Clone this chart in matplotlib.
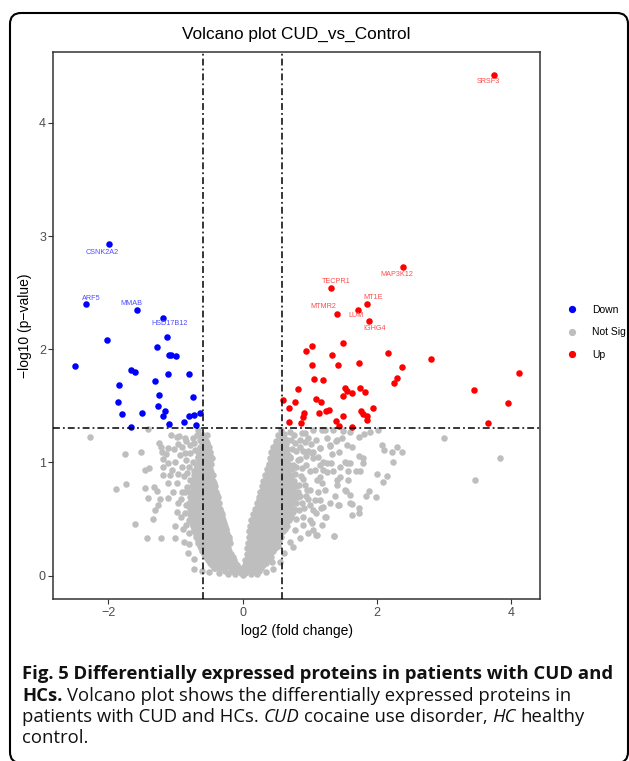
import numpy as np
import matplotlib
matplotlib.use("Agg")
import matplotlib.pyplot as plt
from matplotlib.patches import FancyBboxPatch
from matplotlib.lines import Line2D
from matplotlib.transforms import IdentityTransform

# thresholds
fc_cut = 0.585   # log2(1.5)
p_cut = 1.301    # -log10(0.05)

# significant down-regulated proteins (first four carry labels)
down_labels = ["CSNK2A2", "ARF5", "MMAB", "HSD17B12"]
down_x = [-1.985, -2.34, -1.57, -1.19, -2.49, -2.02, -1.125, -1.27, -1.095, -1.066,
          -0.99, -1.66, -1.61, -1.115, -0.80, -1.31, -1.835, -1.25, -0.742, -1.855,
          -1.264, -1.79, -1.50, -1.16, -1.185, -0.633, -0.797, -0.727, -0.872, -1.095,
          -0.697, -1.666]
down_y = [2.93, 2.40, 2.35, 2.28, 1.854, 2.08, 2.11, 2.02, 1.95, 1.95,
          1.94, 1.82, 1.795, 1.777, 1.78, 1.72, 1.683, 1.60, 1.577, 1.535,
          1.497, 1.426, 1.438, 1.456, 1.41, 1.44, 1.41, 1.418, 1.356, 1.335,
          1.329, 1.311]

# significant up-regulated proteins (first seven carry labels)
up_labels = ["SRSF3", "MAP3K12", "TECPR1", "MT1E", "MTMR2", "LUM", "IGHG4"]
up_x = [3.74, 2.39, 1.32, 1.855, 1.40, 1.72, 1.885,
        1.50, 1.036, 0.946, 1.334, 2.17, 1.73, 1.04, 1.423, 1.07, 1.2,
        0.822, 1.53, 1.56, 1.635, 1.50, 1.75, 1.82, 0.604, 0.778, 1.095,
        1.165, 0.688, 1.945, 0.912, 0.897, 1.145, 1.244, 1.28, 1.493, 1.76,
        1.79, 1.85, 1.86, 0.688, 0.876, 1.393, 1.438, 1.627,
        2.81, 2.377, 4.11, 2.307, 2.253, 3.44, 3.96, 3.654]
up_y = [4.42, 2.73, 2.54, 2.40, 2.314, 2.35, 2.246,
        2.057, 2.03, 1.987, 1.945, 1.966, 1.88, 1.857, 1.857, 1.739, 1.724,
        1.65, 1.662, 1.627, 1.615, 1.586, 1.662, 1.618, 1.55, 1.533, 1.556,
        1.533, 1.485, 1.485, 1.438, 1.40, 1.438, 1.45, 1.462, 1.414, 1.453,
        1.432, 1.414, 1.376, 1.361, 1.352, 1.364, 1.326, 1.314,
        1.913, 1.839, 1.786, 1.742, 1.703, 1.64, 1.526, 1.35]

# not significant: scattered points read one by one
grey_pts = [
    (-2.27, 1.226), (-1.89, 0.763), (-1.736, 0.81), (-1.756, 1.072), (-1.60, 0.458),
    (-1.418, 0.335), (-1.22, 0.332), (-1.0, 0.335), (-1.52, 1.09), (-1.41, 1.294),
    (-1.453, 0.936), (-1.39, 0.953), (-1.453, 0.776), (-1.41, 0.688), (-1.315, 0.779),
    (-1.27, 0.75), (-1.30, 0.58), (-1.254, 0.625), (-1.23, 0.675), (-1.33, 0.497),
    (-1.215, 1.14), (-1.24, 1.17), (-1.205, 1.096), (-1.18, 1.028), (-1.105, 1.126),
    (-1.145, 1.075), (-1.066, 1.243), (-0.95, 1.234), (-0.966, 1.164), (-0.84, 1.193),
    (-0.78, 1.155), (-0.72, 1.17), (-1.01, 0.438), (-0.885, 0.412), (-0.795, 0.373),
    (-0.795, 0.279), (-0.718, 0.143), (-0.41, 0.069), (-1.18, 0.963), (-1.105, 0.993),
    (-1.056, 0.934), (-1.18, 0.889), (-1.08, 0.889), (-1.105, 0.815), (-0.98, 0.815),
    (-1.03, 0.742), (-0.91, 0.742), (-1.105, 0.683), (-0.955, 0.64), (-0.98, 0.565),
    (-0.855, 0.55), (-0.93, 1.066), (-0.85, 1.022), (-0.905, 0.963), (-0.83, 0.904),
    (-0.855, 1.08), (-0.78, 1.08), (-0.805, 0.963), (-0.78, 0.845), (-0.83, 0.786),
    (-0.755, 0.698), (-0.78, 0.61), (-0.805, 0.491), (-0.68, 1.243), (-0.63, 1.2),
    (-0.705, 1.11), (-0.98, 1.228), (-0.857, 1.214), (-0.733, 1.214), (-0.66, 1.288),
    (-0.584, 1.243), (-0.534, 1.17), (-0.484, 1.096), (-0.459, 1.037),
    (-0.88, 0.88), (-0.92, 0.68), (-0.85, 0.62), (-0.88, 0.30), (-0.82, 0.20),
    (-0.72, 0.06), (-0.60, 0.04), (-0.50, 0.03), (-0.35, 0.02), (-0.22, 0.015),
    (-0.12, 0.01), (0.12, 0.01), (0.22, 0.015), (-1.0, 1.0), (-1.02, 1.12),
    (-0.90, 1.14), (-0.74, 1.0), (-0.72, 0.92), (-0.96, 0.90), (-0.86, 0.74),
    (-0.84, 0.45), (-0.92, 0.52), (-0.66, 1.05),
    (3.0, 1.22), (3.455, 0.848), (3.83, 1.037),
    (2.07, 1.155), (2.10, 1.11), (2.23, 1.096), (2.30, 1.14), (2.38, 1.09),
    (2.24, 1.007), (1.995, 0.898), (2.15, 0.88), (2.09, 0.83), (1.89, 0.748),
    (1.845, 0.706), (1.985, 0.697), (1.74, 0.594), (1.73, 0.55), (1.627, 0.538),
    (1.627, 0.633), (1.42, 0.621), (1.24, 0.515), (1.364, 0.35), (1.095, 0.358),
    (1.046, 0.403), (2.01, 1.29), (1.90, 1.27), (1.815, 1.25), (1.73, 1.223),
    (1.60, 1.267), (1.50, 1.279), (1.63, 1.14), (1.55, 1.155), (1.74, 1.057),
    (1.80, 1.037), (1.79, 0.993), (1.53, 1.0), (1.60, 0.993), (1.568, 0.927),
    (1.687, 0.925), (1.75, 0.922), (1.568, 0.845), (1.538, 0.75), (1.60, 0.712),
    (1.413, 0.845), (1.40, 0.80), (1.393, 1.193), (1.443, 1.09), (1.304, 1.146),
    (1.33, 1.072), (1.155, 1.131), (1.314, 0.993), (1.204, 1.007), (1.255, 0.919),
    (1.155, 0.875), (1.23, 0.757), (1.155, 0.668), (1.165, 0.594), (1.006, 0.757),
    (1.08, 0.934), (1.055, 1.037), (1.046, 1.096), (0.946, 1.057), (0.93, 1.258),
    (1.055, 1.29), (1.23, 1.288), (1.353, 1.288), (1.006, 0.491),
    (0.57, 1.29), (0.708, 1.273), (0.882, 1.258), (1.18, 1.288), (0.658, 1.2),
    (0.782, 1.17), (0.857, 1.14), (1.03, 1.08), (1.155, 1.126), (1.13, 1.05),
    (1.30, 1.155), (1.40, 1.2), (1.255, 0.993), (1.204, 0.934), (1.453, 0.875),
    (1.553, 0.993), (1.528, 0.757), (1.60, 0.639), (1.43, 0.624), (1.204, 0.609),
    (1.23, 0.52), (1.105, 0.358), (1.368, 0.35), (1.03, 0.462), (0.906, 0.52),
    (1.08, 0.668), (0.957, 0.757), (1.105, 0.845), (0.757, 0.255), (0.435, 0.122),
    (0.70, 1.05), (0.75, 0.98), (0.80, 1.10), (0.88, 0.95), (0.93, 1.18),
    (0.98, 1.10), (0.72, 1.20), (0.85, 1.03), (0.90, 0.85), (0.95, 0.98),
    (1.10, 1.20), (1.15, 0.98), (0.66, 1.12), (0.78, 0.90), (0.84, 0.80),
    (0.98, 0.68), (1.05, 0.58), (0.92, 0.60), (0.86, 0.70),
    (0.62, 1.25), (0.68, 1.05), (0.74, 1.12), (0.76, 1.24), (0.82, 1.02),
    (0.86, 1.20), (0.90, 1.10), (0.97, 1.22), (1.00, 0.92), (1.02, 1.16),
    (0.80, 0.96), (0.87, 0.88), (0.93, 0.80), (0.82, 0.74), (0.88, 0.64),
    (0.95, 0.70), (1.00, 0.62), (0.84, 0.58), (0.80, 0.50), (0.90, 0.45),
    (0.78, 0.40), (0.70, 0.30), (0.85, 0.33), (0.62, 0.20), (0.55, 0.12),
    (0.45, 0.06), (0.35, 0.03), (1.12, 0.74), (1.18, 0.82), (1.25, 1.22),
    (1.35, 0.92), (1.45, 0.96), (1.48, 1.22), (1.38, 0.70), (1.30, 0.64),
    (1.10, 0.55), (1.18, 0.45), (0.97, 0.38),
    (0.0, 0.005), (-0.03, 0.02), (0.03, 0.02), (-0.02, 0.05), (0.01, 0.035),
]

# not significant: the solid core of the two wings, estimated row by row
left_core = [
    (0.04, [-0.26, -0.18, -0.11, -0.05]),
    (0.065, [-0.42, -0.34, -0.26, -0.18, -0.11, -0.04]),
    (0.09, [-0.46, -0.38, -0.30, -0.22, -0.15, -0.08]),
    (0.115, [-0.49, -0.41, -0.33, -0.25, -0.18, -0.11]),
    (0.14, [-0.52, -0.44, -0.36, -0.29, -0.21, -0.13]),
    (0.165, [-0.55, -0.47, -0.39, -0.31, -0.23, -0.15]),
    (0.19, [-0.58, -0.50, -0.42, -0.34, -0.26, -0.17]),
    (0.215, [-0.60, -0.52, -0.44, -0.36, -0.28, -0.20]),
    (0.24, [-0.62, -0.55, -0.47, -0.39, -0.31, -0.22]),
    (0.265, [-0.64, -0.56, -0.48, -0.40, -0.32, -0.24]),
    (0.29, [-0.66, -0.58, -0.50, -0.42, -0.34, -0.26, -0.19]),
    (0.315, [-0.67, -0.59, -0.51, -0.43, -0.35, -0.27, -0.20]),
    (0.34, [-0.69, -0.61, -0.53, -0.45, -0.37, -0.29, -0.21]),
    (0.365, [-0.70, -0.62, -0.54, -0.46, -0.38, -0.30, -0.23]),
    (0.39, [-0.72, -0.64, -0.56, -0.48, -0.40, -0.32, -0.24]),
    (0.415, [-0.73, -0.65, -0.57, -0.49, -0.41, -0.33, -0.25]),
    (0.44, [-0.74, -0.66, -0.58, -0.50, -0.42, -0.34, -0.26]),
    (0.465, [-0.75, -0.67, -0.59, -0.51, -0.43, -0.35, -0.28]),
    (0.49, [-0.76, -0.68, -0.60, -0.52, -0.44, -0.36, -0.29]),
    (0.515, [-0.77, -0.69, -0.61, -0.53, -0.45, -0.37, -0.30]),
    (0.54, [-0.78, -0.70, -0.62, -0.54, -0.46, -0.38, -0.31]),
    (0.565, [-0.75, -0.67, -0.59, -0.51, -0.43, -0.36, -0.32]),
    (0.59, [-0.79, -0.71, -0.63, -0.55, -0.47, -0.39, -0.33]),
    (0.615, [-0.76, -0.68, -0.60, -0.52, -0.44, -0.37]),
    (0.64, [-0.80, -0.72, -0.64, -0.56, -0.48, -0.41, -0.35]),
    (0.665, [-0.76, -0.68, -0.60, -0.52, -0.44, -0.38]),
    (0.69, [-0.79, -0.71, -0.63, -0.55, -0.48, -0.41, -0.36]),
    (0.715, [-0.75, -0.67, -0.59, -0.51, -0.44, -0.38]),
    (0.74, [-0.78, -0.70, -0.62, -0.54, -0.47, -0.40]),
    (0.765, [-0.73, -0.65, -0.57, -0.50, -0.43]),
    (0.79, [-0.76, -0.68, -0.60, -0.53, -0.46, -0.41]),
    (0.815, [-0.71, -0.63, -0.56, -0.49, -0.43]),
    (0.84, [-0.74, -0.66, -0.58, -0.51, -0.44]),
    (0.865, [-0.69, -0.61, -0.54, -0.47]),
    (0.89, [-0.72, -0.64, -0.57, -0.50, -0.44]),
    (0.915, [-0.67, -0.60, -0.53, -0.47]),
    (0.94, [-0.70, -0.62, -0.55, -0.49]),
    (0.965, [-0.66, -0.58, -0.51]),
    (0.99, [-0.69, -0.61, -0.54, -0.47]),
    (1.015, [-0.64, -0.57, -0.50]),
    (1.04, [-0.67, -0.60, -0.53, -0.47]),
    (1.065, [-0.63, -0.56, -0.49]),
    (1.09, [-0.66, -0.59, -0.52]),
    (1.115, [-0.61, -0.54]),
    (1.14, [-0.64, -0.57, -0.50]),
    (1.165, [-0.59, -0.53]),
    (1.19, [-0.62, -0.55]),
    (1.215, [-0.57]),
    (1.24, [-0.60, -0.53]),
]
right_core = [
    (0.04, [0.04, 0.11, 0.18, 0.25]),
    (0.065, [0.02, 0.07, 0.14, 0.21, 0.28]),
    (0.09, [0.03, 0.10, 0.17, 0.24, 0.31]),
    (0.115, [0.07, 0.14, 0.21, 0.28, 0.35]),
    (0.14, [0.04, 0.11, 0.18, 0.25, 0.32, 0.38]),
    (0.165, [0.08, 0.15, 0.22, 0.29, 0.36, 0.42]),
    (0.19, [0.06, 0.13, 0.20, 0.27, 0.34, 0.41]),
    (0.215, [0.10, 0.17, 0.24, 0.31, 0.38, 0.45]),
    (0.24, [0.07, 0.14, 0.21, 0.28, 0.35, 0.42, 0.48]),
    (0.265, [0.11, 0.18, 0.25, 0.32, 0.39, 0.46, 0.52]),
    (0.29, [0.08, 0.15, 0.22, 0.29, 0.36, 0.43, 0.50]),
    (0.315, [0.12, 0.19, 0.26, 0.33, 0.40, 0.47, 0.54]),
    (0.34, [0.09, 0.16, 0.23, 0.30, 0.37, 0.44, 0.51, 0.57]),
    (0.365, [0.13, 0.20, 0.27, 0.34, 0.41, 0.48, 0.56]),
    (0.39, [0.10, 0.17, 0.24, 0.31, 0.38, 0.45, 0.52, 0.60]),
    (0.415, [0.14, 0.21, 0.28, 0.35, 0.42, 0.49, 0.56, 0.63]),
    (0.44, [0.11, 0.18, 0.25, 0.32, 0.39, 0.46, 0.53, 0.60, 0.66]),
    (0.465, [0.15, 0.22, 0.29, 0.36, 0.43, 0.50, 0.57, 0.64]),
    (0.49, [0.13, 0.20, 0.27, 0.34, 0.41, 0.48, 0.55, 0.62, 0.69]),
    (0.515, [0.17, 0.24, 0.31, 0.38, 0.45, 0.52, 0.59, 0.66, 0.72]),
    (0.54, [0.16, 0.23, 0.30, 0.37, 0.44, 0.51, 0.58, 0.65, 0.72]),
    (0.565, [0.20, 0.27, 0.34, 0.41, 0.48, 0.55, 0.62, 0.69, 0.75]),
    (0.59, [0.19, 0.26, 0.33, 0.40, 0.47, 0.54, 0.61, 0.68, 0.76]),
    (0.615, [0.23, 0.30, 0.37, 0.44, 0.51, 0.58, 0.65, 0.72]),
    (0.64, [0.22, 0.29, 0.36, 0.43, 0.50, 0.57, 0.64, 0.71, 0.79]),
    (0.665, [0.25, 0.32, 0.39, 0.46, 0.53, 0.60, 0.67, 0.75]),
    (0.69, [0.24, 0.31, 0.38, 0.45, 0.52, 0.59, 0.66, 0.74, 0.83]),
    (0.715, [0.28, 0.35, 0.42, 0.49, 0.56, 0.63, 0.70, 0.78]),
    (0.74, [0.26, 0.33, 0.40, 0.47, 0.54, 0.61, 0.68, 0.77]),
    (0.765, [0.30, 0.37, 0.44, 0.51, 0.58, 0.65, 0.73]),
    (0.79, [0.29, 0.36, 0.43, 0.50, 0.57, 0.64, 0.72, 0.80]),
    (0.815, [0.33, 0.40, 0.47, 0.54, 0.61, 0.69]),
    (0.84, [0.31, 0.38, 0.45, 0.52, 0.59, 0.67, 0.76]),
    (0.865, [0.35, 0.42, 0.49, 0.56, 0.63, 0.72]),
    (0.89, [0.34, 0.41, 0.48, 0.55, 0.62, 0.70]),
    (0.915, [0.38, 0.45, 0.52, 0.59, 0.67]),
    (0.94, [0.36, 0.43, 0.50, 0.57, 0.64, 0.73]),
    (0.965, [0.40, 0.47, 0.54, 0.61, 0.70]),
    (0.99, [0.39, 0.46, 0.53, 0.60, 0.68]),
    (1.015, [0.43, 0.50, 0.57, 0.65]),
    (1.04, [0.41, 0.48, 0.55, 0.63, 0.71]),
    (1.065, [0.45, 0.52, 0.59, 0.67]),
    (1.09, [0.43, 0.50, 0.57, 0.65]),
    (1.115, [0.48, 0.55, 0.62]),
    (1.14, [0.46, 0.53, 0.60]),
    (1.165, [0.50, 0.57, 0.64]),
    (1.19, [0.49, 0.56, 0.64]),
    (1.215, [0.55, 0.62]),
    (1.24, [0.53, 0.60]),
]

# label offsets in points (layout only)
down_offsets = [(-5.0, -6.0), (3.9, 4.1), (-4.3, 4.5), (4.8, -4.5)]
up_offsets = [(-4.1, -4.6), (-4.8, -5.5), (3.9, 4.8), (4.3, 4.8), (-9.8, 5.0), (-1.4, -4.5), (4.1, -5.3)]

W, H = 629, 761
fig = plt.figure(figsize=(W / 100, H / 100), dpi=100)
fig.patch.set_facecolor("white")
chart_font = "Liberation Sans"

# rounded frame around the figure
frame = FancyBboxPatch((10, -2), 618, 750, boxstyle="round,pad=0,rounding_size=11",
                       transform=IdentityTransform(), fill=False, edgecolor="black",
                       linewidth=1.5, zorder=0)
fig.patches.append(frame)

ax = fig.add_axes([53.3 / W, 1 - 599.3 / H, (540 - 53.3) / W, (599.3 - 51.7) / H])

gx = [p[0] for p in grey_pts]
gy = [p[1] for p in grey_pts]
for yv, xs in left_core + right_core:
    gx += xs
    gy += [yv] * len(xs)

s = 22
h_grey = ax.scatter(gx, gy, s=s, color="#bebebe", linewidths=0, zorder=2)
h_down = ax.scatter(down_x, down_y, s=s, color="blue", linewidths=0, zorder=3)
h_up = ax.scatter(up_x, up_y, s=s, color="red", linewidths=0, zorder=3)

for name, x, y, off in zip(down_labels, down_x, down_y, down_offsets):
    ax.annotate(name, (x, y), xytext=off, textcoords="offset points", ha="center",
                va="center", fontsize=5.2, color="#4d4dff", family=chart_font, zorder=4)
for name, x, y, off in zip(up_labels, up_x, up_y, up_offsets):
    ax.annotate(name, (x, y), xytext=off, textcoords="offset points", ha="center",
                va="center", fontsize=5.2, color="#ff4d4d", family=chart_font, zorder=4)

dash = (0, (4.5, 2, 1.2, 2))
for xv in (-fc_cut, fc_cut):
    ax.axvline(xv, color="black", lw=1.1, linestyle=dash, zorder=5)
ax.axhline(p_cut, color="black", lw=1.1, linestyle=dash, zorder=5)

ax.set_xlim(-2.82, 4.43)
ax.set_ylim(-0.21, 4.63)
ax.set_xticks([-2, 0, 2, 4])
ax.set_xticklabels(["\u22122", "0", "2", "4"])
ax.set_yticks([0, 1, 2, 3, 4])
ax.tick_params(direction="out", length=3.3, width=0.8, color="#333333",
               labelcolor="#4d4d4d", labelsize=9, pad=2)
for lab in ax.get_xticklabels() + ax.get_yticklabels():
    lab.set_family(chart_font)
for sp in ax.spines.values():
    sp.set_color("#333333")
    sp.set_linewidth(1.1)

ax.set_xlabel("log2 (fold change)", fontsize=10, family=chart_font, labelpad=4)
ax.set_ylabel("\u2212log10 (p\u2212value)", fontsize=10, family=chart_font, labelpad=5)
fig.text(296.7 / W, 1 - 34 / H, "Volcano plot CUD_vs_Control", ha="center", va="center",
         fontsize=12.4, family=chart_font)

handles = [Line2D([], [], marker="o", ls="none", color=c, markersize=4.2)
           for c in ("blue", "#bebebe", "red")]
fig.legend(handles, ["Down", "Not Sig", "Up"], loc="upper left",
           bbox_to_anchor=(562 / W, 1 - 299.5 / H), frameon=False,
           prop={"family": chart_font, "size": 7.5}, handlelength=1.0,
           handletextpad=1.4, labelspacing=1.2, borderpad=0)

# caption below the chart
cap_font = "Open Sans"
cap_fs = 13.3
renderer = fig.canvas.get_renderer()


def text_width(s, **kw):
    t = fig.text(0, 0, s, fontsize=cap_fs, family=cap_font, **kw)
    w = t.get_window_extent(renderer).width
    t.remove()
    return w / W


space = text_width("n n") - text_width("nn")

caption = [
    (679, [("Fig. 5 Differentially expressed proteins in patients with CUD and", "bold", "normal")]),
    (701, [("HCs.", "bold", "normal"),
           ("Volcano plot shows the differentially expressed proteins in", "normal", "normal")]),
    (722, [("patients with CUD and HCs.", "normal", "normal"), ("CUD", "normal", "italic"),
           ("cocaine use disorder,", "normal", "normal"), ("HC", "normal", "italic"),
           ("healthy", "normal", "normal")]),
    (743, [("control.", "normal", "normal")]),
]
for ypx, parts in caption:
    x = 22 / W
    for txt, weight, style in parts:
        fig.text(x, 1 - ypx / H, txt, fontsize=cap_fs, family=cap_font, fontweight=weight,
                 fontstyle=style, va="baseline", ha="left", color="#111111")
        x += text_width(txt, fontweight=weight, fontstyle=style) + space

fig.savefig("out.png", dpi=100)
